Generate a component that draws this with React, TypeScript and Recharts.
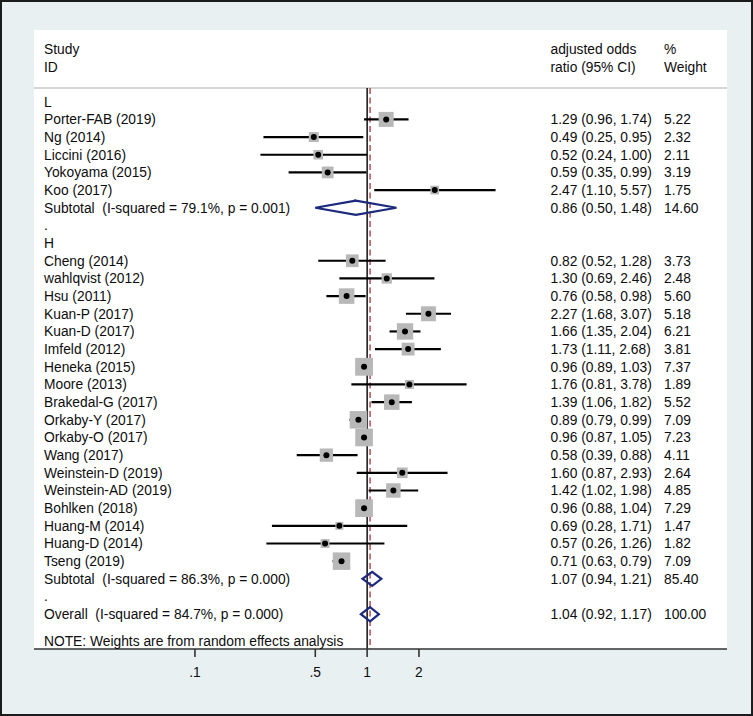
import React from 'react';
import {
  ComposedChart,
  XAxis,
  YAxis,
  Scatter,
  ErrorBar,
  ReferenceLine,
  CartesianGrid,
} from 'recharts';

// ---------------- data ----------------
const groups = ['L', 'H'];

const studyNames = [
  'Porter-FAB (2019)', 'Ng (2014)', 'Liccini (2016)', 'Yokoyama (2015)', 'Koo (2017)',
  'Cheng (2014)', 'wahlqvist (2012)', 'Hsu (2011)', 'Kuan-P (2017)', 'Kuan-D (2017)',
  'Imfeld (2012)', 'Heneka (2015)', 'Moore (2013)', 'Brakedal-G (2017)', 'Orkaby-Y (2017)',
  'Orkaby-O (2017)', 'Wang (2017)', 'Weinstein-D (2019)', 'Weinstein-AD (2019)', 'Bohlken (2018)',
  'Huang-M (2014)', 'Huang-D (2014)', 'Tseng (2019)',
];
const studyGroup = [
  'L', 'L', 'L', 'L', 'L',
  'H', 'H', 'H', 'H', 'H', 'H', 'H', 'H', 'H', 'H', 'H', 'H', 'H', 'H', 'H', 'H', 'H', 'H',
];
const studyOR = [
  1.29, 0.49, 0.52, 0.59, 2.47,
  0.82, 1.30, 0.76, 2.27, 1.66, 1.73, 0.96, 1.76, 1.39, 0.89, 0.96, 0.58, 1.60, 1.42, 0.96, 0.69, 0.57, 0.71,
];
const studyLo = [
  0.96, 0.25, 0.24, 0.35, 1.10,
  0.52, 0.69, 0.58, 1.68, 1.35, 1.11, 0.89, 0.81, 1.06, 0.79, 0.87, 0.39, 0.87, 1.02, 0.88, 0.28, 0.26, 0.63,
];
const studyHi = [
  1.74, 0.95, 1.00, 0.99, 5.57,
  1.28, 2.46, 0.98, 3.07, 2.04, 2.68, 1.03, 3.78, 1.82, 0.99, 1.05, 0.88, 2.93, 1.98, 1.04, 1.71, 1.26, 0.79,
];
const studyWeight = [
  5.22, 2.32, 2.11, 3.19, 1.75,
  3.73, 2.48, 5.60, 5.18, 6.21, 3.81, 7.37, 1.89, 5.52, 7.09, 7.23, 4.11, 2.64, 4.85, 7.29, 1.47, 1.82, 7.09,
];

// pooled: subtotal L, subtotal H, overall
const pooledLabels = [
  'Subtotal  (I-squared = 79.1%, p = 0.001)',
  'Subtotal  (I-squared = 86.3%, p = 0.000)',
  'Overall  (I-squared = 84.7%, p = 0.000)',
];
const pooledOR = [0.86, 1.07, 1.04];
const pooledLo = [0.50, 0.94, 0.92];
const pooledHi = [1.48, 1.21, 1.17];
const pooledWeight = [14.60, 85.40, 100.00];

const xTicks = [0.1, 0.5, 1, 2];
const xTickLabels = ['.1', '.5', '1', '2'];

const headerLine1 = ['Study', 'adjusted odds', '%'];
const headerLine2 = ['ID', 'ratio (95% CI)', 'Weight'];
const noteText = 'NOTE: Weights are from random effects analysis';

// ---------------- layout / style constants ----------------
const W = 753;
const H = 716;
const FONT = '"Liberation Sans", Arial, Helvetica, sans-serif';
const FS = 13.8;
const X_MIN = 0.011625;
const X_MAX = 123.0;
const Y_MIN = -4.058;
const Y_MAX = 30.97;
const SEP_ROW = -0.775;
const HEAD1_ROW = -2.98;
const HEAD2_ROW = -1.96;
const NOTE_ROW = 30.52;
const LABEL_X = 44;
const CI_X = 550.5;
const W_X = 664;
const DIAMOND_HALF = 0.4;
const SQUARE_K = 6.57;
const NAVY = '#1b2a7c';
const MAROON = '#a8323e';
const SQUARE_FILL = '#b8b8b8';

// ---------------- build rows ----------------
type RowText = { label: string; ci?: string; weight?: string };
const rowMap = new Map<number, RowText>();
const studyPts: { x: number; y: number; w: number; err: [number, number] }[] = [];
const diamonds: { x: number; y: number }[][] = [];

const fmtCI = (o: number, l: number, h: number) =>
  `${o.toFixed(2)} (${l.toFixed(2)}, ${h.toFixed(2)})`;

const addDiamond = (k: number, r: number) => {
  diamonds.push([
    { x: pooledLo[k], y: r },
    { x: pooledOR[k], y: r - DIAMOND_HALF },
    { x: pooledHi[k], y: r },
    { x: pooledOR[k], y: r + DIAMOND_HALF },
    { x: pooledLo[k], y: r },
    { x: pooledOR[k], y: r - DIAMOND_HALF },
  ]);
  rowMap.set(r, {
    label: pooledLabels[k],
    ci: fmtCI(pooledOR[k], pooledLo[k], pooledHi[k]),
    weight: pooledWeight[k].toFixed(2),
  });
};

let row = 0;
groups.forEach((g, gi) => {
  rowMap.set(row, { label: g });
  row++;
  studyNames.forEach((name, i) => {
    if (studyGroup[i] !== g) return;
    rowMap.set(row, {
      label: name,
      ci: fmtCI(studyOR[i], studyLo[i], studyHi[i]),
      weight: studyWeight[i].toFixed(2),
    });
    studyPts.push({
      x: studyOR[i],
      y: row,
      w: studyWeight[i],
      err: [studyOR[i] - studyLo[i], studyHi[i] - studyOR[i]],
    });
    row++;
  });
  addDiamond(gi, row);
  row++;
  rowMap.set(row, { label: '.' });
  row++;
});
addDiamond(2, row);

rowMap.set(HEAD1_ROW, { label: headerLine1[0], ci: headerLine1[1], weight: headerLine1[2] });
rowMap.set(HEAD2_ROW, { label: headerLine2[0], ci: headerLine2[1], weight: headerLine2[2] });
rowMap.set(NOTE_ROW, { label: noteText });

const rowTicks = Array.from(rowMap.keys()).sort((a, b) => a - b);

// ---------------- renderers ----------------
const txtStyle: React.CSSProperties = { whiteSpace: 'pre' };

const renderRowTick = (props: any) => {
  const { y, payload } = props;
  const r = rowMap.get(payload.value);
  if (!r) return <g />;
  const common = {
    y,
    dy: '0.36em',
    fontFamily: FONT,
    fontSize: FS,
    fill: '#0d0d0d',
    textAnchor: 'start' as const,
    style: txtStyle,
  };
  return (
    <g>
      <text x={LABEL_X} {...common}>{r.label}</text>
      {r.ci && <text x={CI_X} {...common}>{r.ci}</text>}
      {r.weight && <text x={W_X} {...common}>{r.weight}</text>}
    </g>
  );
};

const SquareShape = (props: any) => {
  const { cx, cy, payload } = props;
  const s = SQUARE_K * Math.sqrt(payload.w);
  return <rect x={cx - s / 2} y={cy - s / 2} width={s} height={s} fill={SQUARE_FILL} />;
};

const DotShape = (props: any) => {
  const { cx, cy } = props;
  return <circle cx={cx} cy={cy} r={3} fill="#000" />;
};

const NoShape = () => <g />;

export default function App() {
  return (
    <div
      style={{
        position: 'absolute',
        left: 0,
        top: 0,
        width: W,
        height: H,
        background: '#e9f0f2',
      }}
    >
      <ComposedChart
        width={W}
        height={H}
        margin={{ top: 30, right: 26, bottom: 0, left: 33 }}
      >
        <CartesianGrid fill="#ffffff" horizontal={false} vertical={false} />
        <XAxis
          dataKey="x"
          type="number"
          scale="log"
          domain={[X_MIN, X_MAX]}
          allowDataOverflow
          ticks={xTicks}
          interval={0}
          tickFormatter={(v: number) => xTickLabels[xTicks.indexOf(v)] ?? String(v)}
          height={67}
          tickSize={8}
          tickMargin={10}
          axisLine={{ stroke: '#333', strokeWidth: 1.6 }}
          tickLine={{ stroke: '#333', strokeWidth: 1.6 }}
          tick={{ fill: '#0d0d0d', fontSize: FS, fontFamily: FONT }}
        />
        <YAxis
          dataKey="y"
          type="number"
          domain={[Y_MIN, Y_MAX]}
          allowDataOverflow
          reversed
          width={1}
          ticks={rowTicks}
          interval={0}
          axisLine={false}
          tickLine={false}
          tick={renderRowTick}
        />
        <ReferenceLine y={SEP_ROW} stroke="#c9c9c9" strokeWidth={1.6} />
        <ReferenceLine
          segment={[{ x: 1, y: SEP_ROW }, { x: 1, y: Y_MAX }]}
          stroke="#000"
          strokeWidth={1.4}
        />
        <ReferenceLine
          segment={[{ x: pooledOR[2], y: SEP_ROW }, { x: pooledOR[2], y: Y_MAX }]}
          stroke={MAROON}
          strokeWidth={1.3}
          strokeDasharray="6 3.5"
        />
        <Scatter data={studyPts} shape={<SquareShape />} isAnimationActive={false} />
        <Scatter data={studyPts} shape={<DotShape />} isAnimationActive={false}>
          <ErrorBar dataKey="err" direction="x" width={0} stroke="#000" strokeWidth={2.2} />
        </Scatter>
        {diamonds.map((d, i) => (
          <Scatter
            key={i}
            data={d}
            shape={<NoShape />}
            line={{ stroke: NAVY, strokeWidth: 2.2, strokeLinejoin: 'miter', fill: 'none' }}
            lineType="joint"
            isAnimationActive={false}
          />
        ))}
      </ComposedChart>
      <div
        style={{
          position: 'absolute',
          left: 0,
          top: 0,
          width: W,
          height: H,
          boxSizing: 'border-box',
          border: '2px solid #1b1b1b',
          pointerEvents: 'none',
        }}
      />
    </div>
  );
}
